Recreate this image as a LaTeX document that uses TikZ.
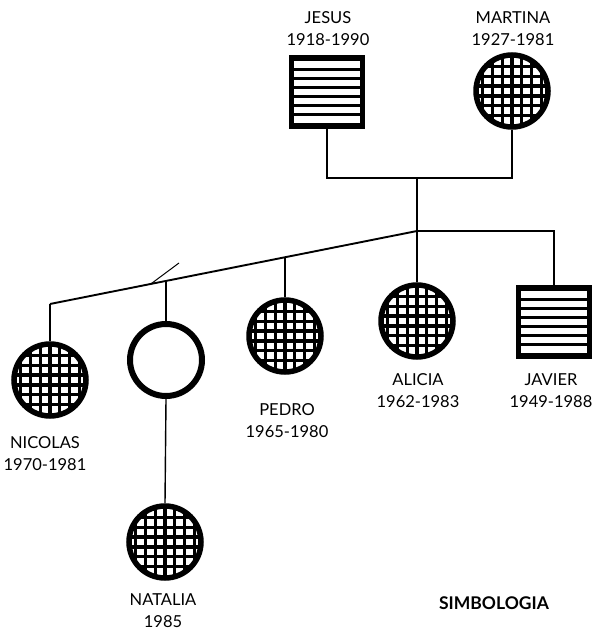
\documentclass[tikz,border=0pt]{standalone}
\usepackage{fontspec}
\setmainfont{Lato}
\tikzset{
  link/.style={line width=1.4pt},
  lbl/.style={align=center,inner sep=0pt,font=\fontsize{16.5}{22}\selectfont},
  male/.style={draw,line width=5.5pt,minimum width=71pt,minimum height=68pt,inner sep=0pt,
    path picture={\foreach \k in {-2.5,-1.5,...,2.5}{
      \draw[line width=3.2pt] ([yshift=\k*8.9pt]path picture bounding box.west) -- ([yshift=\k*8.9pt]path picture bounding box.east);}}},
  female/.style={circle,draw,line width=5.5pt,minimum size=72pt,inner sep=0pt,
    path picture={\foreach \k in {-4,...,4}{
      \draw[line width=3.3pt] ([xshift=\k*9.8pt]path picture bounding box.north) -- ([xshift=\k*9.8pt]path picture bounding box.south);
      \draw[line width=3.3pt] ([yshift=\k*9.8pt+4.9pt]path picture bounding box.west) -- ([yshift=\k*9.8pt+4.9pt]path picture bounding box.east);}}},
  unknown/.style={circle,draw,line width=6pt,minimum size=72pt,inner sep=0pt}
}
\begin{document}
\begin{tikzpicture}[x=1pt,y=-1pt]
  % pixel coordinates of the scan, y downwards
  \useasboundingbox (0,0) rectangle (593,631);
  \node[male] (jesus) at (327,92) {};
  \node[female] (martina) at (512,91) {};
  \node[female] (nicolas) at (50,380) {};
  \node[unknown] (mother) at (166,360) {};
  \node[female] (natalia) at (165,542) {};
  \node[female] (pedro) at (285,336) {};
  \node[female] (alicia) at (417,321) {};
  \node[male] (javier) at (554,322) {};
  % labels
  \node[lbl] (ljesus) at (328,29) {JESUS\\1918-1990};
  \node[lbl] (lmartina) at (513,29) {MARTINA\\1927-1981};
  \node[lbl] (lnicolas) at (45,454) {NICOLAS\\1970-1981};
  \node[lbl] (lpedro) at (287,421) {PEDRO\\1965-1980};
  \node[lbl] (lalicia) at (418,391) {ALICIA\\1962-1983};
  \node[lbl] (ljavier) at (551,391) {JAVIER\\1949-1988};
  \node[lbl] (lnatalia) at (163,611) {NATALIA\\1985};
  \node[lbl,font=\fontsize{17.5}{20}\selectfont\bfseries] (legend) at (494,603) {SIMBOLOGIA};
  % lines of descent
  \coordinate (couple) at (417,178);
  \coordinate (sibs) at (417,231);
  \coordinate (nicbend) at (50,304);
  \coordinate (pedj) at (285,257.25);
  \coordinate (motj) at (166,280.9);
  \coordinate (tick1) at (151,283.8);
  \coordinate (tick2) at (179,263);
  \draw[link] (jesus.south) |- (couple) -| (martina.south);
  \draw[link] (couple) -- (sibs);
  \draw[link] (sibs) -| (javier.north);
  \draw[link] (sibs) -- (alicia.north);
  \draw[link,line width=1.9pt] (sibs) -- (nicbend);
  \draw[link] (nicbend) -- (nicolas.north);
  \draw[link] (pedj) -- (pedro.north);
  \draw[link] (motj) -- (mother.north);
  \draw[link] (mother.south) -- (natalia.north);
  \draw[line width=1pt] (tick1) -- (tick2);
\end{tikzpicture}
\end{document}
